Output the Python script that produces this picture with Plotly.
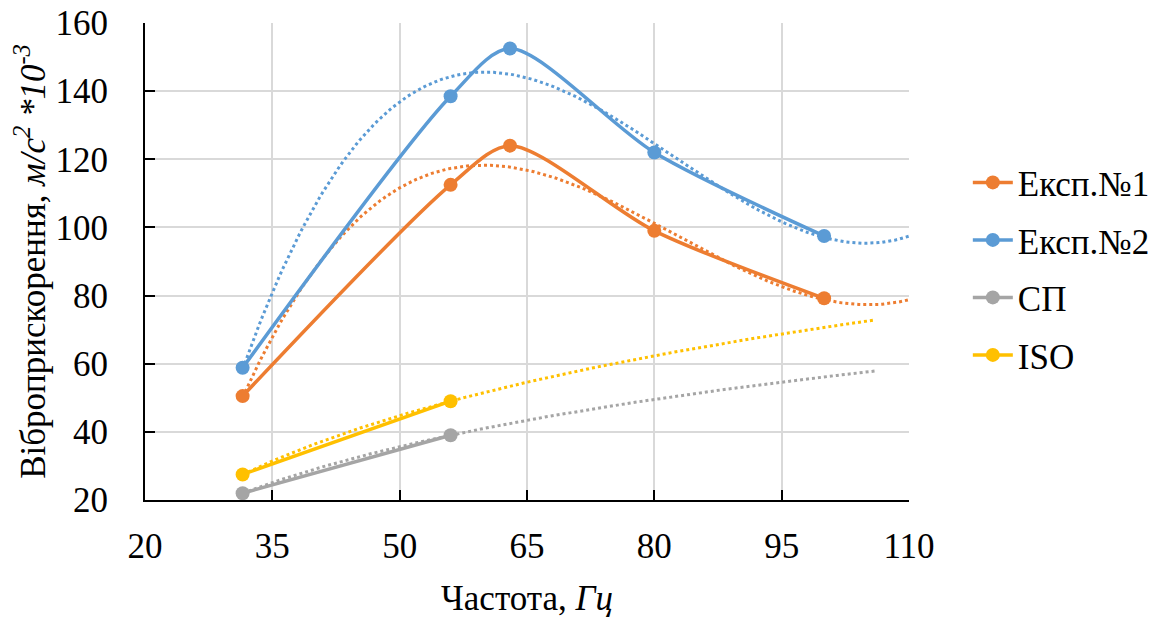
import numpy as np
import plotly.graph_objects as go

freq = [31.5, 56, 63, 80, 100]
exp1 = [50.5, 112.5, 124, 99, 79.2]
exp2 = [58.8, 138.5, 152.5, 122, 97.5]
freq_norm = [31.5, 56]
sp = [22, 39]
iso = [27.5, 49]

names = ["Експ.№1", "Експ.№2", "СП", "ISO"]
colors = ["#ED7D31", "#5B9BD5", "#A5A5A5", "#FFC000"]

FONT = "Liberation Serif, Times New Roman, serif"
def F():
    return dict(family=FONT, size=35, color="black")

fig = go.Figure()

# polynomial (order 3) trendlines, forecast forward to 110
for ys, c in [(exp1, colors[0]), (exp2, colors[1])]:
    p = np.polyfit(freq, ys, 3)
    xs = np.linspace(freq[0], 110, 200)
    fig.add_trace(go.Scatter(x=xs, y=np.polyval(p, xs), mode="lines",
                             line=dict(color=c, width=3, dash="dot"),
                             showlegend=False, hoverinfo="skip"))
# logarithmic trendlines, forecast forward 50
for ys, c in [(sp, colors[2]), (iso, colors[3])]:
    a, b = np.polyfit(np.log(freq_norm), ys, 1)
    xs = np.linspace(freq_norm[0], freq_norm[-1] + 50, 200)
    fig.add_trace(go.Scatter(x=xs, y=a * np.log(xs) + b, mode="lines",
                             line=dict(color=c, width=3, dash="dot"),
                             showlegend=False, hoverinfo="skip"))

series = [(freq, exp1), (freq, exp2), (freq_norm, sp), (freq_norm, iso)]
for (xs, ys), n, c in zip(series, names, colors):
    fig.add_trace(go.Scatter(x=xs, y=ys, name=n, mode="lines+markers", legendgroup=n,
                             line=dict(color=c, width=3.5, shape="spline", smoothing=0.8),
                             marker=dict(color=c, size=14)))

# page has an 8px body margin: figure is 1166x613 placed at (8, 8)
fig.update_layout(
    width=1166, height=613,
    margin=dict(l=137, r=265, t=15, b=121, autoexpand=False),
    plot_bgcolor="white", paper_bgcolor="white",
    font=F(),
    legend=dict(x=1.077, y=0.485, xanchor="left", yanchor="middle",
                font=F(), tracegroupgap=9, itemwidth=40),
    showlegend=True,
)
fig.update_xaxes(range=[20, 110], tickmode="array", tickvals=[20, 35, 50, 65, 80, 95, 110],
                 tickfont=F(),
                 showgrid=True, gridcolor="#D9D9D9", gridwidth=1.5,
                 showline=True, linecolor="black", linewidth=2,
                 ticks="inside", ticklen=10, tickwidth=2, tickcolor="black",
                 ticklabelstandoff=14, zeroline=False, automargin=False,
                 title=dict(text="Частота, <i>Гц</i>", standoff=20, font=F()))
fig.update_yaxes(range=[20, 160], tickmode="array", tickvals=list(range(20, 161, 20)),
                 tickfont=F(),
                 showgrid=True, gridcolor="#D9D9D9", gridwidth=1.5,
                 showline=True, linecolor="black", linewidth=2,
                 ticks="inside", ticklen=10, tickwidth=2, tickcolor="black",
                 ticklabelstandoff=28, zeroline=False, automargin=False, ticklabeloverflow="allow",
                 title=dict(text="Віброприскорення, <i>м/с<sup>2</sup> *10<sup>-3</sup></i>",
                            standoff=10, font=F()))

fig.write_html("out.html")
